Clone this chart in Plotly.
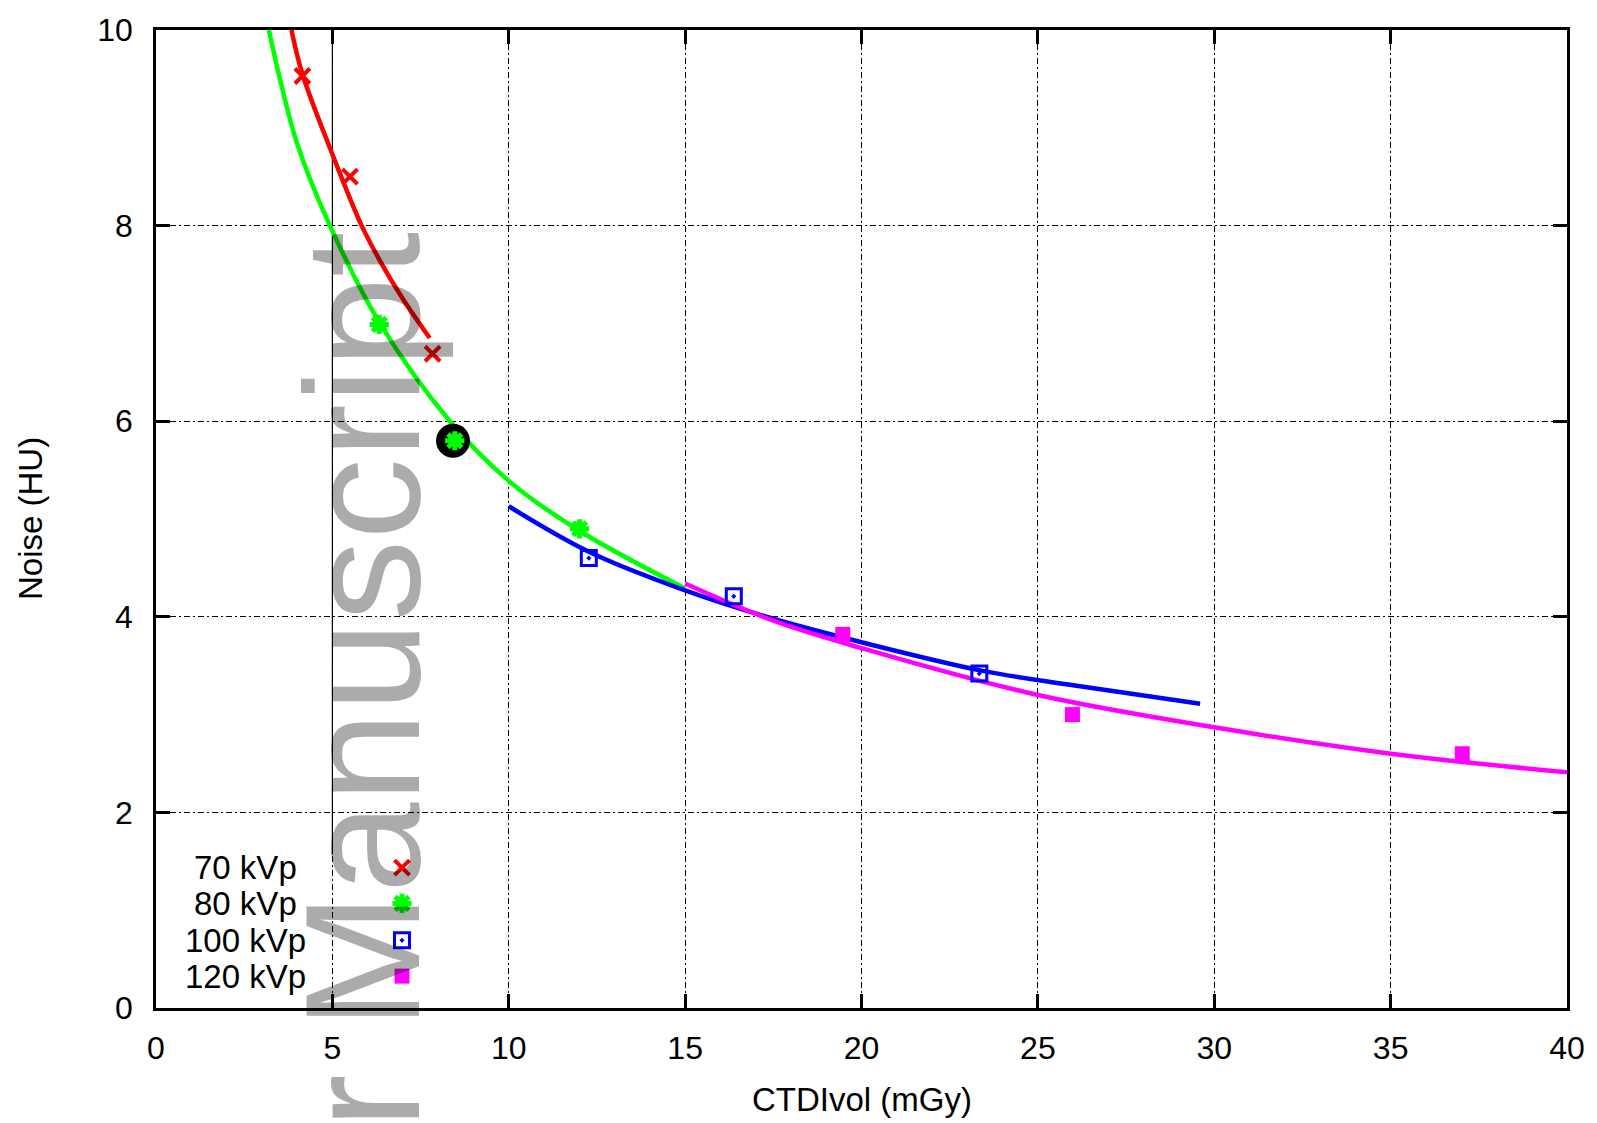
import plotly.graph_objects as go

# ---------------- data ----------------
kv70_x = [4.15, 5.5, 7.84]
kv70_y = [9.53, 8.5, 6.69]
kv80_x = [6.33, 8.47, 12.01]
kv80_y = [6.99, 5.8, 4.9]
kv100_x = [12.27, 16.38, 23.34]
kv100_y = [4.6, 4.21, 3.42]
kv120_x = [19.47, 25.98, 37.03]
kv120_y = [3.82, 3.0, 2.6]

# fitted curves
fit70_x = [3.84, 4.15, 5.0, 5.83, 6.35, 7.0, 7.76]
fit70_y = [10.0, 9.55, 8.73, 8.0, 7.64, 7.25, 6.85]
fit80_x = [3.2, 3.5, 4.0, 4.93, 6.35, 8.33, 10.0, 12.0, 15.0]
fit80_y = [10.0, 9.52, 8.84, 8.0, 7.0, 6.0, 5.39, 4.88, 4.29]
fit100_x = [10.0, 12.3, 15.0, 17.5, 20.0, 23.4, 26.0, 29.6]
fit100_y = [5.13, 4.66, 4.27, 3.98, 3.74, 3.45, 3.30, 3.11]
fit120_x = [15.0, 17.5, 20.0, 25.0, 30.0, 35.0, 40.0]
fit120_y = [4.34, 3.96, 3.68, 3.20, 2.87, 2.60, 2.41]

highlight_x = [8.42]
highlight_y = [5.8]

ref_line_x = [5, 5]
ref_line_y = [1.57, 10]

legend_labels = ["70 kVp", "80 kVp", "100 kVp", "120 kVp"]
x_ticks = [0, 5, 10, 15, 20, 25, 30, 35, 40]
y_ticks = [0, 2, 4, 6, 8, 10]
x_title = "CTDIvol (mGy)"
y_title = "Noise (HU)"
watermark = "Author Manuscript"

# ---------------- layout helpers ----------------
W, H = 1597, 1123
L, R, T, B = 156, 1567, 26, 1008
FONT = "Liberation Sans, Arial, Helvetica, sans-serif"


def px(xp):
    return (xp - L) / (R - L)


def py(yp):
    return (B - yp) / (B - T)


RED, GREEN, BLUE, MAG = "#ff0000", "#00ff00", "#0000ff", "#ff00ff"

fig = go.Figure()

# reference vertical line
fig.add_trace(go.Scatter(x=ref_line_x, y=ref_line_y, mode="lines",
                         line=dict(color="black", width=1.2), showlegend=False, hoverinfo="skip"))

# fit curves
for fx, fy, c in [(fit70_x, fit70_y, RED), (fit80_x, fit80_y, GREEN),
                  (fit100_x, fit100_y, BLUE), (fit120_x, fit120_y, MAG)]:
    fig.add_trace(go.Scatter(x=fx, y=fy, mode="lines", line=dict(color=c, width=4.5, shape="spline"),
                             showlegend=False, hoverinfo="skip"))

# highlight circle
fig.add_trace(go.Scatter(x=highlight_x, y=highlight_y, mode="markers",
                         marker=dict(symbol="circle", size=34, color="black"), showlegend=False))

# data markers
styles = [
    dict(symbol="x-thin-open", size=15, color=RED, line=dict(color=RED, width=4)),
    dict(symbol="asterisk-open", size=16, color=GREEN, line=dict(color=GREEN, width=5)),
    dict(symbol="square-open-dot", size=15, color=BLUE, line=dict(color=BLUE, width=3)),
    dict(symbol="square", size=15, color=MAG, line=dict(width=0)),
]
for (dx, dy), st in zip([(kv70_x, kv70_y), (kv80_x, kv80_y), (kv100_x, kv100_y), (kv120_x, kv120_y)], styles):
    fig.add_trace(go.Scatter(x=dx, y=dy, mode="markers", marker=st, showlegend=False))

# manual key (text left, symbol right), in paper-like overlay axes
row_y = [867, 903, 940, 976]
key_sym_x = 402
key_txt_x = 245
for lab, yy, st in zip(legend_labels, row_y, styles):
    fig.add_trace(go.Scatter(x=[px(key_sym_x)], y=[py(yy)], mode="markers", marker=st,
                             xaxis="x2", yaxis="y2", showlegend=False, hoverinfo="skip"))

annotations = []
for lab, yy in zip(legend_labels, row_y):
    annotations.append(dict(text=lab, x=px(key_txt_x), y=py(yy), xref="paper", yref="paper",
                            xanchor="center", yanchor="middle", showarrow=False,
                            font=dict(family=FONT, size=33, color="black")))

# axis titles
annotations.append(dict(text=x_title, x=px(862), y=py(1100), xref="paper", yref="paper",
                        xanchor="center", yanchor="middle", showarrow=False,
                        font=dict(family=FONT, size=33, color="black")))
annotations.append(dict(text=y_title, x=px(30), y=py(517), xref="paper", yref="paper",
                        xanchor="center", yanchor="middle", showarrow=False, textangle=-90,
                        font=dict(family=FONT, size=33, color="black")))

# watermark
annotations.append(dict(text=watermark, x=px(362), y=py(893), xref="paper", yref="paper",
                        xanchor="center", yanchor="middle", showarrow=False, textangle=-90,
                        font=dict(family=FONT, size=163, color="rgba(0,0,0,0.33)")))

axis_common = dict(showline=True, linecolor="black", linewidth=2.5, mirror="ticks",
                   ticks="inside", ticklen=14, tickwidth=2.5, tickcolor="black",
                   showgrid=True, gridcolor="black", gridwidth=1, griddash="6px,3px,2px,3px",
                   zeroline=False, tickfont=dict(family=FONT, size=32, color="black"))

fig.update_layout(
    width=W, height=H,
    margin=dict(l=L, r=W - R, t=T, b=H - B, pad=0),
    paper_bgcolor="white", plot_bgcolor="white",
    xaxis=dict(range=[0, 40], tickvals=x_ticks, ticklabelstandoff=10, **axis_common),
    yaxis=dict(range=[0, 10], tickvals=y_ticks, ticklabelstandoff=14, **axis_common),
    xaxis2=dict(range=[0, 1], overlaying="x", visible=False),
    yaxis2=dict(range=[0, 1], overlaying="y", visible=False),
    annotations=annotations,
    showlegend=False,
)

fig.write_html("out.html")
